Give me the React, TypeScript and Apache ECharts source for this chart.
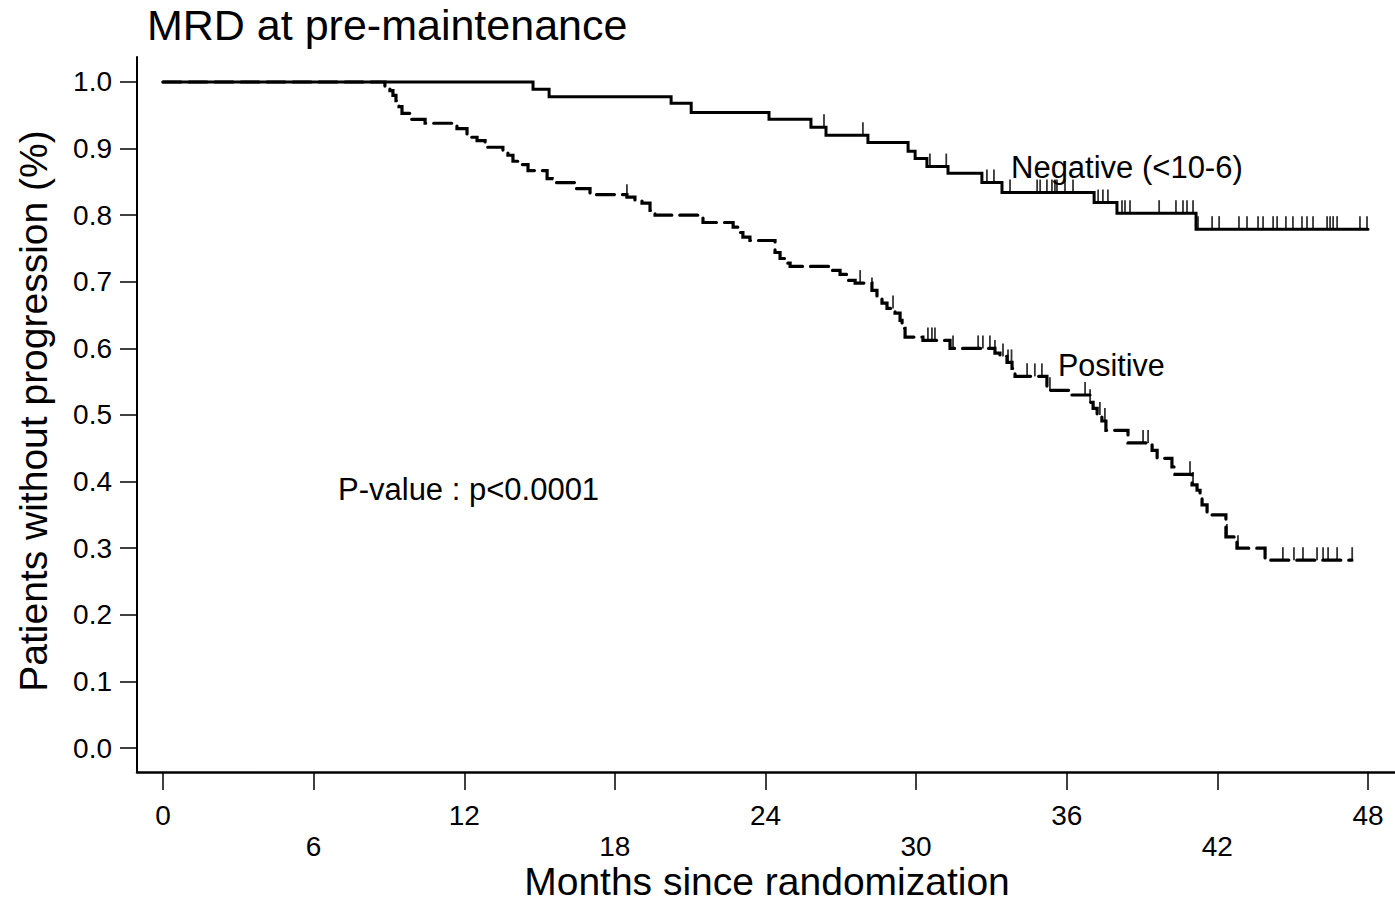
import React, { useEffect, useRef } from "react";
import * as echarts from "echarts";

// ---- Data (months since randomization, proportion without progression) ----
const negTimes = [0, 14.74, 15.38, 20.24, 21.04, 24.14, 25.81, 26.41, 28.08, 29.68, 29.96, 30.43, 31.27, 32.62, 33.42, 37.09, 38.0, 41.15, 48.0];
const negSurv = [1.0, 0.989, 0.978, 0.968, 0.954, 0.944, 0.932, 0.92, 0.909, 0.896, 0.885, 0.873, 0.863, 0.849, 0.834, 0.819, 0.803, 0.779, 0.779];
const negCensor = [26.33, 27.88, 30.55, 31.2, 32.82, 33.1, 33.74, 34.82, 34.94, 35.21, 35.41, 35.53, 35.61, 35.93, 36.25, 37.25, 37.44, 37.64, 38.2, 38.32, 38.52, 39.68, 40.35, 40.63, 40.79, 41.03, 41.23, 41.79, 42.07, 42.86, 43.18, 43.62, 43.82, 44.22, 44.38, 44.73, 45.01, 45.37, 45.57, 45.81, 46.37, 46.49, 46.61, 46.77, 47.68, 47.96];

const posTimes = [0, 8.84, 9.04, 9.16, 9.28, 9.4, 9.52, 9.84, 10.44, 11.71, 12.11, 12.51, 12.83, 13.54, 13.74, 13.94, 14.22, 14.54, 15.3, 15.5, 16.41, 17.01, 18.48, 18.8, 19.08, 19.4, 19.6, 21.51, 22.71, 22.9, 23.1, 23.38, 24.38, 24.58, 24.78, 24.98, 26.57, 26.97, 27.29, 27.57, 28.24, 28.44, 28.64, 28.84, 29.16, 29.36, 29.44, 29.56, 30.27, 31.35, 33.14, 33.34, 33.62, 33.82, 33.94, 35.21, 36.13, 36.93, 37.05, 37.21, 37.4, 37.56, 38.44, 39.4, 39.6, 40.19, 40.31, 40.99, 41.19, 41.31, 41.39, 41.59, 42.34, 42.78, 43.9, 47.36];
const posSurv = [1.0, 0.993, 0.987, 0.98, 0.972, 0.963, 0.953, 0.944, 0.938, 0.93, 0.917, 0.912, 0.902, 0.897, 0.89, 0.881, 0.876, 0.867, 0.855, 0.849, 0.84, 0.831, 0.827, 0.822, 0.818, 0.807, 0.8, 0.789, 0.782, 0.774, 0.767, 0.762, 0.744, 0.735, 0.728, 0.723, 0.717, 0.711, 0.702, 0.698, 0.687, 0.677, 0.668, 0.66, 0.653, 0.642, 0.63, 0.617, 0.612, 0.6, 0.593, 0.588, 0.579, 0.57, 0.558, 0.537, 0.53, 0.519, 0.51, 0.5, 0.491, 0.477, 0.458, 0.447, 0.435, 0.422, 0.411, 0.395, 0.387, 0.377, 0.365, 0.35, 0.317, 0.3, 0.282, 0.282];
const posCensor = [18.48, 27.77, 28.24, 29.08, 30.47, 30.63, 30.75, 31.47, 32.47, 32.66, 32.94, 33.14, 33.46, 33.66, 33.8, 34.42, 34.73, 35.01, 35.33, 36.73, 36.93, 37.32, 37.52, 39.04, 39.24, 40.91, 41.03, 42.38, 42.82, 44.61, 45.05, 45.41, 45.97, 46.21, 46.41, 46.77, 47.37];

const xTickValues = [0, 6, 12, 18, 24, 30, 36, 42, 48];
const yTickValues = [0, 0.1, 0.2, 0.3, 0.4, 0.5, 0.6, 0.7, 0.8, 0.9, 1.0];

const titleText = "MRD at pre-maintenance";
const xTitle = "Months since randomization";
const yTitle = "Patients without progression (%)";
const negLabel = "Negative (<10-6)";
const posLabel = "Positive";
const pLabel = "P-value : p<0.0001";

const FONT = '"Liberation Sans", Arial, Helvetica, sans-serif';

function survAt(times: number[], surv: number[], t: number): number {
  let s = 1;
  for (let i = 0; i < times.length; i++) {
    if (times[i] <= t) s = surv[i];
  }
  return s;
}

export default function App() {
  const ref = useRef<HTMLDivElement>(null);

  useEffect(() => {
    if (!ref.current) return;
    const chart = echarts.init(ref.current, null, { renderer: "svg" });

    const X_MIN = -1.0357;
    const X_MAX = 49.0755;
    const Y_MIN = -0.036;
    const Y_MAX = 1.0375;

    const negData = negTimes.map((t, i) => [t, negSurv[i]]);
    const posData = posTimes.map((t, i) => [t, posSurv[i]]);
    const negCData = negCensor.map((t) => [t, survAt(negTimes, negSurv, t)]);
    const posCData = posCensor.map((t) => [t, survAt(posTimes, posSurv, t)]);

    const option: any = {
      animation: false,
      grid: { left: 137, right: 0, top: 57, bottom: 129, containLabel: false },
      xAxis: {
        type: "value",
        min: X_MIN,
        max: X_MAX,
        axisLine: { show: true, onZero: false, lineStyle: { color: "#000", width: 2.5 } },
        axisTick: {
          show: true,
          length: 18,
          customValues: xTickValues,
          lineStyle: { color: "#000", width: 1.5 },
        },
        axisLabel: {
          show: true,
          customValues: xTickValues,
          hideOverlap: false,
          margin: 28,
          fontSize: 28,
          lineHeight: 31,
          color: "#000",
          fontFamily: FONT,
          formatter: (v: number) => {
            const k = Math.round(v / 6);
            return k % 2 === 1 ? "\n" + Math.round(v) : String(Math.round(v));
          },
        },
        splitLine: { show: false },
      },
      yAxis: {
        type: "value",
        min: Y_MIN,
        max: Y_MAX,
        axisLine: { show: true, onZero: false, lineStyle: { color: "#000", width: 2 } },
        axisTick: {
          show: true,
          length: 17,
          customValues: yTickValues,
          lineStyle: { color: "#000", width: 1.5 },
        },
        axisLabel: {
          show: true,
          customValues: yTickValues,
          hideOverlap: false,
          margin: 25,
          fontSize: 28,
          color: "#000",
          fontFamily: FONT,
          formatter: (v: number) => v.toFixed(1),
        },
        splitLine: { show: false },
      },
      series: [
        {
          type: "line",
          name: negLabel,
          data: negData,
          step: "end",
          symbol: "none",
          lineStyle: { color: "#000", width: 3, cap: "round", join: "miter" },
          z: 3,
        },
        {
          type: "line",
          name: posLabel,
          data: posData,
          step: "end",
          symbol: "none",
          lineStyle: { color: "#000", width: 3.2, type: [18, 8], cap: "round", join: "miter" },
          z: 3,
        },
        {
          type: "scatter",
          data: negCData,
          symbol: "rect",
          symbolSize: [1.8, 13],
          symbolOffset: [0, -6.5],
          itemStyle: { color: "#000" },
          z: 4,
        },
        {
          type: "scatter",
          data: posCData,
          symbol: "rect",
          symbolSize: [1.8, 13],
          symbolOffset: [0, -6.5],
          itemStyle: { color: "#000" },
          z: 4,
        },
      ],
      graphic: [
        {
          type: "text",
          x: 147,
          y: 25,
          style: { text: titleText, fontSize: 43, fontFamily: FONT, fill: "#000", align: "left", verticalAlign: "middle" },
        },
        {
          type: "text",
          x: 767,
          y: 881,
          style: { text: xTitle, fontSize: 39, lineHeight: 36, fontFamily: FONT, fill: "#000", align: "center", verticalAlign: "middle" },
        },
        {
          type: "text",
          x: 33,
          y: 411,
          rotation: Math.PI / 2,
          style: { text: yTitle, fontSize: 39, fontFamily: FONT, fill: "#000", align: "center", verticalAlign: "middle" },
        },
        {
          type: "text",
          x: 1011,
          y: 167,
          style: { text: negLabel, fontSize: 31, fontFamily: FONT, fill: "#000", align: "left", verticalAlign: "middle" },
        },
        {
          type: "text",
          x: 1058,
          y: 365,
          style: { text: posLabel, fontSize: 30.5, fontFamily: FONT, fill: "#000", align: "left", verticalAlign: "middle" },
        },
        {
          type: "text",
          x: 338,
          y: 489,
          style: { text: pLabel, fontSize: 31, fontFamily: FONT, fill: "#000", align: "left", verticalAlign: "middle" },
        },
      ],
    };

    chart.setOption(option);
    return () => {
      chart.dispose();
    };
  }, []);

  return (
    <div
      ref={ref}
      style={{ position: "fixed", left: 0, top: 0, width: 1395, height: 901, background: "#fff" }}
    />
  );
}
